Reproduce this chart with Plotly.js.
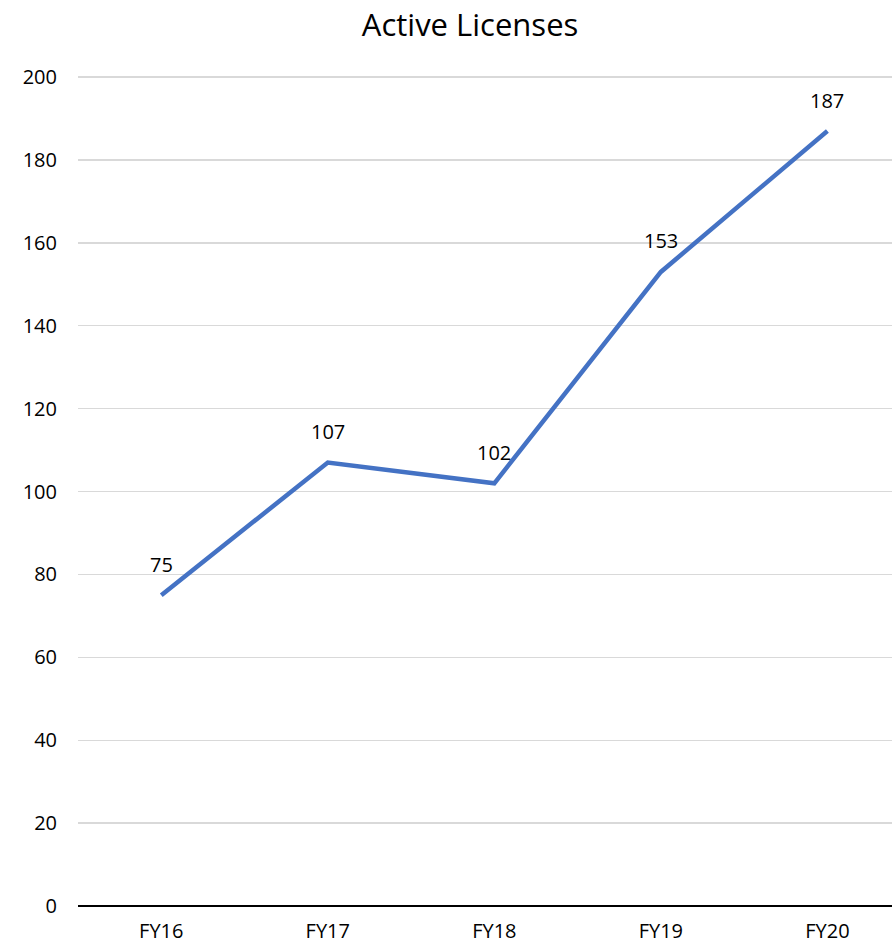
<!DOCTYPE html>
<html>
<head>
<meta charset="utf-8">
<script src="https://cdn.plot.ly/plotly-3.0.1.min.js"></script>
<style>html,body{margin:0;padding:0;background:#fff;}#chart{width:892px;height:947px;}</style>
</head>
<body>
<div id="chart"></div>
<script>
const categories = ["FY16", "FY17", "FY18", "FY19", "FY20"];
const licenses = [75, 107, 102, 153, 187];
const yTicks = [0, 20, 40, 60, 80, 100, 120, 140, 160, 180, 200];

const font = "Open Sans, Liberation Sans, Arial, sans-serif";

const trace = {
  x: categories.map((c, i) => i),
  y: licenses,
  type: "scatter",
  mode: "lines",
  line: {color: "#4472C4", width: 4.5},
  hoverinfo: "skip"
};

const annotations = licenses.map((v, i) => ({
  x: i, y: v, xref: "x", yref: "y",
  text: String(v), showarrow: false,
  yshift: 31, font: {family: font, size: 20, color: "#000"}
}));

const layout = {
  width: 892, height: 947,
  margin: {l: 78, r: 0, t: 73, b: 41},
  paper_bgcolor: "#fff", plot_bgcolor: "#fff",
  title: {text: "Active Licenses", x: 0.527, xanchor: "center", y: 0.973, yanchor: "middle",
          font: {family: font, size: 31, color: "#000"}},
  showlegend: false,
  xaxis: {
    range: [-0.5, 4.388],
    tickmode: "array",
    tickvals: categories.map((c, i) => i),
    ticktext: categories,
    showgrid: false, zeroline: false,
    showline: false, ticks: "", ticklabelstandoff: 11,
    tickfont: {family: font, size: 20, color: "#000"},
    fixedrange: true
  },
  yaxis: {
    range: [0, 201],
    tickmode: "array",
    tickvals: yTicks,
    ticktext: yTicks.map(String),
    showgrid: true, gridcolor: "#d9d9d9", gridwidth: 1.3,
    zeroline: true, zerolinecolor: "#000", zerolinewidth: 1.5,
    showline: false, ticks: "", ticklabelstandoff: 20,
    tickfont: {family: font, size: 20, color: "#000"},
    fixedrange: true
  },
  annotations: annotations
};

Plotly.newPlot("chart", [trace], layout, {displayModeBar: false, staticPlot: true});
</script>
</body>
</html>
